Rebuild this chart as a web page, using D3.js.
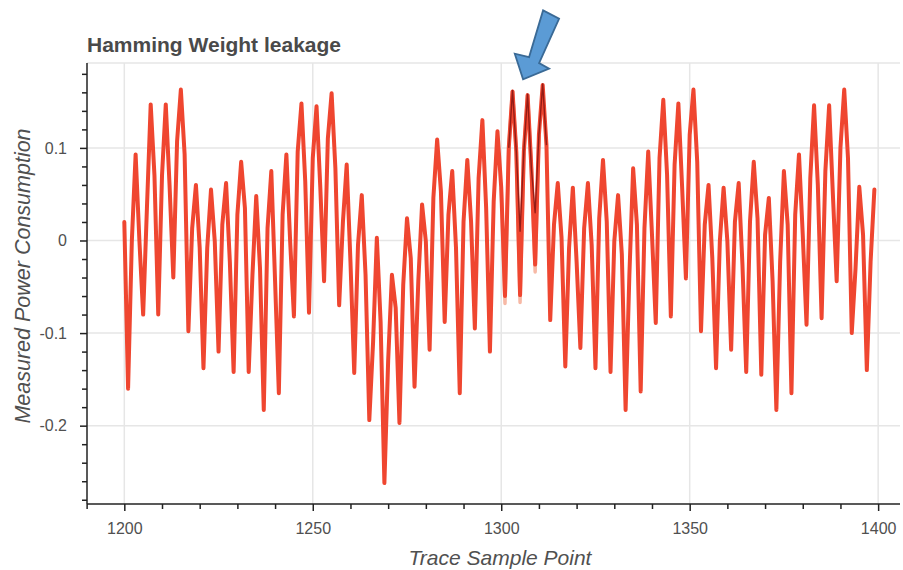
<!DOCTYPE html>
<html>
<head>
<meta charset="utf-8">
<script src="https://cdn.jsdelivr.net/npm/d3@7"></script>
<style>
  html, body { margin: 0; padding: 0; background: #fff; }
  svg { display: block; font-family: "Liberation Sans", Arial, Helvetica, sans-serif; }
</style>
</head>
<body>
<svg id="chart" width="903" height="570"></svg>
<script>
// ---------------- DATA ----------------
const chartTitle = "Hamming Weight leakage";
const xLabel = "Trace Sample Point";
const yLabel = "Measured Power Consumption";
const startSample = 1200;
// Measured power, one value per trace sample point (1200 ... 1399)
const power = [
  0.020, -0.160, 0.000, 0.093, 0.000, -0.080, 0.035, 0.147, 0.070, -0.080,
  0.070, 0.147, 0.060, -0.040, 0.107, 0.163, 0.093, -0.098, 0.013, 0.060,
  -0.008, -0.138, -0.008, 0.055, -0.001, -0.120, 0.017, 0.062, -0.023, -0.142,
  0.028, 0.085, 0.035, -0.142, -0.037, 0.048, -0.030, -0.183, 0.013, 0.075,
  -0.044, -0.165, 0.028, 0.093, -0.001, -0.082, 0.096, 0.148, 0.064, -0.078,
  0.089, 0.145, 0.057, -0.044, 0.110, 0.159, 0.078, -0.070, 0.020, 0.082,
  -0.023, -0.143, -0.005, 0.049, -0.037, -0.194, -0.110, 0.003, -0.088, -0.262,
  -0.130, -0.037, -0.073, -0.197, -0.048, 0.024, -0.019, -0.158, -0.044, 0.039,
  -0.001, -0.118, 0.046, 0.109, 0.053, -0.088, 0.028, 0.075, -0.008, -0.165,
  0.020, 0.087, 0.020, -0.095, 0.067, 0.130, 0.035, -0.120, 0.042, 0.118,
  0.057, -0.060, 0.100, 0.161, 0.096, -0.059, 0.096, 0.157, 0.078, -0.026,
  0.114, 0.168, 0.103, -0.086, 0.017, 0.062, 0.003, -0.136, -0.008, 0.057,
  -0.023, -0.116, 0.013, 0.062, -0.005, -0.138, 0.024, 0.087, 0.020, -0.142,
  -0.001, 0.049, -0.015, -0.183, -0.037, 0.078, 0.017, -0.163, 0.013, 0.096,
  0.006, -0.089, 0.089, 0.152, 0.071, -0.082, 0.082, 0.148, 0.057, -0.041,
  0.114, 0.163, 0.085, -0.098, 0.017, 0.060, -0.019, -0.138, -0.001, 0.057,
  -0.001, -0.118, 0.020, 0.062, -0.026, -0.142, 0.020, 0.085, 0.024, -0.145,
  0.006, 0.046, -0.044, -0.183, -0.023, 0.075, 0.017, -0.165, 0.028, 0.093,
  0.006, -0.091, 0.067, 0.146, 0.060, -0.084, 0.075, 0.146, 0.049, -0.044,
  0.100, 0.163, 0.089, -0.100, -0.030, 0.058, 0.006, -0.140, -0.023, 0.055
];
// Traces that separate by Hamming weight around the leaking point
const lowHwStart = 1300;
const lowHwPower = [0.057, -0.068, 0.100, 0.161, 0.096, -0.067, 0.096, 0.157, 0.078, -0.034, 0.114];
const highHwStart = 1302;
const highHwPower = [0.100, 0.162, 0.096, 0.010, 0.096, 0.158, 0.078, 0.030, 0.114, 0.169, 0.103];
const xMajorTicks = [1200, 1250, 1300, 1350, 1400];
const yMajorTicks = [-0.2, -0.1, 0, 0.1];
const arrowTarget = { sample: 1305.8, value: 0.174 };

// ---------------- LAYOUT ----------------
const svg = d3.select("#chart");
const plot = { left: 87, right: 900, top: 63, bottom: 504 };
const x = d3.scaleLinear().domain([1190.1, 1405.8]).range([plot.left, plot.right]);
const y = d3.scaleLinear().domain([-0.2846, 0.1917]).range([plot.bottom, plot.top]);

const textColor = "#505050";
const fontFam = "'Liberation Sans', Arial, sans-serif";

// grid
const grid = svg.append("g");
grid.selectAll("line.vg").data(xMajorTicks).join("line")
  .attr("x1", d => x(d)).attr("x2", d => x(d))
  .attr("y1", plot.top).attr("y2", plot.bottom)
  .attr("stroke", "#e6e6e6").attr("stroke-width", 1.5);
grid.selectAll("line.hg").data(yMajorTicks).join("line")
  .attr("x1", plot.left).attr("x2", plot.right)
  .attr("y1", d => y(d)).attr("y2", d => y(d))
  .attr("stroke", "#e6e6e6").attr("stroke-width", 1.5);
svg.append("line").attr("x1", plot.left).attr("x2", plot.right)
  .attr("y1", plot.top).attr("y2", plot.top)
  .attr("stroke", "#e6e6e6").attr("stroke-width", 1.5);

// lines
const line = d3.line().x(d => x(d[0])).y(d => y(d[1])).curve(d3.curveLinear);
const mainData = power.map((v, i) => [startSample + i, v]);
const lowData = lowHwPower.map((v, i) => [lowHwStart + i, v]);
const highData = highHwPower.map((v, i) => [highHwStart + i, v]);

svg.append("path").datum(lowData).attr("d", line)
  .attr("fill", "none").attr("stroke", "#f7b9a6").attr("stroke-width", 3.5)
  .attr("stroke-linejoin", "round");
svg.append("path").datum(mainData).attr("d", line)
  .attr("fill", "none").attr("stroke", "#ef4630").attr("stroke-width", 4)
  .attr("stroke-linejoin", "round").attr("stroke-linecap", "round");
svg.append("path").datum(highData).attr("d", line)
  .attr("fill", "none").attr("stroke", "#6e0a0a").attr("stroke-width", 1.4)
  .attr("stroke-opacity", 0.7).attr("stroke-linejoin", "round");

// axes
const axisColor = "#222";
const xMinor = d3.range(1190, 1401, 10).filter(t => !xMajorTicks.includes(t));
const yMinor = d3.range(-28, 19, 2).map(v => +(v / 100).toFixed(2))
  .filter(t => !yMajorTicks.some(m => Math.abs(m - t) < 1e-9));

const gx = svg.append("g").attr("transform", `translate(0,${plot.bottom})`);
gx.call(d3.axisBottom(x).tickValues(xMajorTicks).tickSizeInner(7).tickSizeOuter(0).tickPadding(12).tickFormat(d3.format("d")));
const gxm = svg.append("g").attr("transform", `translate(0,${plot.bottom})`);
gxm.call(d3.axisBottom(x).tickValues(xMinor).tickSizeInner(5).tickSizeOuter(0).tickFormat(""));
gxm.select(".domain").remove();

const gy = svg.append("g").attr("transform", `translate(${plot.left},0)`);
gy.call(d3.axisLeft(y).tickValues(yMajorTicks).tickSizeInner(7).tickSizeOuter(0).tickPadding(13)
  .tickFormat(d => d === 0 ? "0" : d.toFixed(1)));
const gym = svg.append("g").attr("transform", `translate(${plot.left},0)`);
gym.call(d3.axisLeft(y).tickValues(yMinor).tickSizeInner(5).tickSizeOuter(0).tickFormat(""));
gym.select(".domain").remove();

[gx, gxm, gy, gym].forEach(g => {
  g.selectAll("line").attr("stroke", axisColor).attr("stroke-width", 1.5);
  g.selectAll(".domain").attr("stroke", axisColor).attr("stroke-width", 1.5);
  g.selectAll("text").attr("fill", textColor).attr("font-size", 16)
    .attr("font-family", fontFam);
});
gx.select(".domain").attr("d", `M${plot.left},0H${plot.right}`);
gy.select(".domain").attr("d", `M0,${plot.top}V${plot.bottom}`);

// titles
svg.append("text").attr("x", plot.left).attr("y", 52)
  .attr("fill", "#4a4a4a").attr("font-size", 21).attr("font-weight", "bold")
  .text(chartTitle);
svg.append("text").attr("x", 500).attr("y", 565).attr("text-anchor", "middle")
  .attr("fill", textColor).attr("font-size", 21).attr("font-style", "italic")
  .text(xLabel);
svg.append("text").attr("transform", "translate(30,276) rotate(-90)")
  .attr("text-anchor", "middle")
  .attr("fill", textColor).attr("font-size", 21.5).attr("font-style", "italic")
  .text(yLabel);

// annotation arrow pointing at the leaking samples
const tipX = x(arrowTarget.sample), tipY = y(arrowTarget.value);
const arrowShape = [[20, -69], [36, -60.7], [16, -16.3], [26, -10.7], [0, 0], [-8.3, -25.7], [6, -22.3]];
svg.append("polygon")
  .attr("points", arrowShape.map(p => [tipX + p[0], tipY + p[1]].join(",")).join(" "))
  .attr("fill", "#5b9bd5").attr("stroke", "#3a6a96").attr("stroke-width", 1.8)
  .attr("stroke-linejoin", "miter");
</script>
</body>
</html>
